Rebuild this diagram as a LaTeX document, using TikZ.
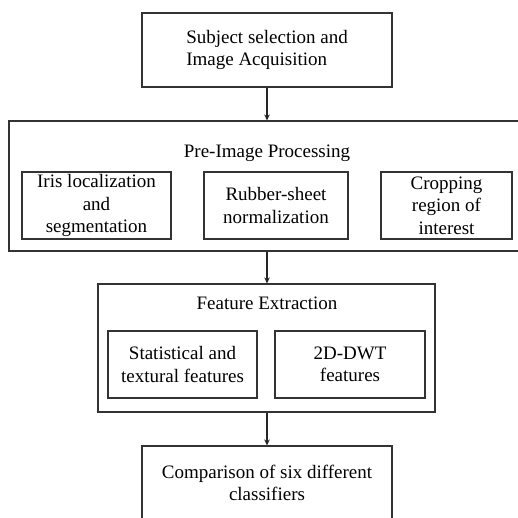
\documentclass[tikz,border=0pt]{standalone}
\usepackage{fontspec}
\setmainfont{Liberation Serif}
\usetikzlibrary{arrows.meta}
\begin{document}
\begin{tikzpicture}[x=1pt,y=-1pt,
  box/.style={draw=black!80, line width=1.1pt, inner sep=0pt, align=center,
    font=\fontsize{19}{22.5}\selectfont},
  lbl/.style={inner sep=0pt, align=center, font=\fontsize{19}{22.5}\selectfont},
  arr/.style={draw=black!85, line width=1.1pt, -{Stealth[length=6pt,width=5.5pt]}}]
\useasboundingbox (0,0) rectangle (518,518);
\node[box, minimum width=250pt, minimum height=74pt] (top) at (267,50)
  {\begin{tabular}{@{}l@{}}Subject selection and\\Image Acquisition\end{tabular}};
\node[box, minimum width=515pt, minimum height=130pt] (pre) at (266.5,186) {};
\node[lbl] (pret) at (267,153) {Pre-Image Processing};
\node[box, minimum width=149pt, minimum height=67pt] (iris) at (96.5,205.5)
  {Iris localization\\and\\segmentation};
\node[box, minimum width=144pt, minimum height=67pt] (rub) at (276,205.5)
  {Rubber-sheet\\normalization};
\node[box, minimum width=131pt, minimum height=67pt] (crop) at (446.5,205.5)
  {Cropping\\region of\\interest};
\node[box, minimum width=337pt, minimum height=128pt] (fe) at (266.5,348) {};
\node[lbl] (fet) at (267,303) {Feature Extraction};
\node[box, minimum width=149pt, minimum height=67pt] (stat) at (182.5,364.5)
  {Statistical and\\textural features};
\node[box, minimum width=150pt, minimum height=67pt] (dwt) at (350,364.5)
  {2D-DWT\\features};
\node[box, minimum width=250pt, minimum height=100pt] (cmp) at (267,496) {};
\node[lbl] (cmpt) at (267,483) {Comparison of six different\\classifiers};
\draw[arr] (top.south) -- (pre.north -| top.south);
\draw[arr] (pre.south -| top.south) -- (fe.north -| top.south);
\draw[arr] (fe.south -| top.south) -- (cmp.north -| top.south);
\end{tikzpicture}
\end{document}
